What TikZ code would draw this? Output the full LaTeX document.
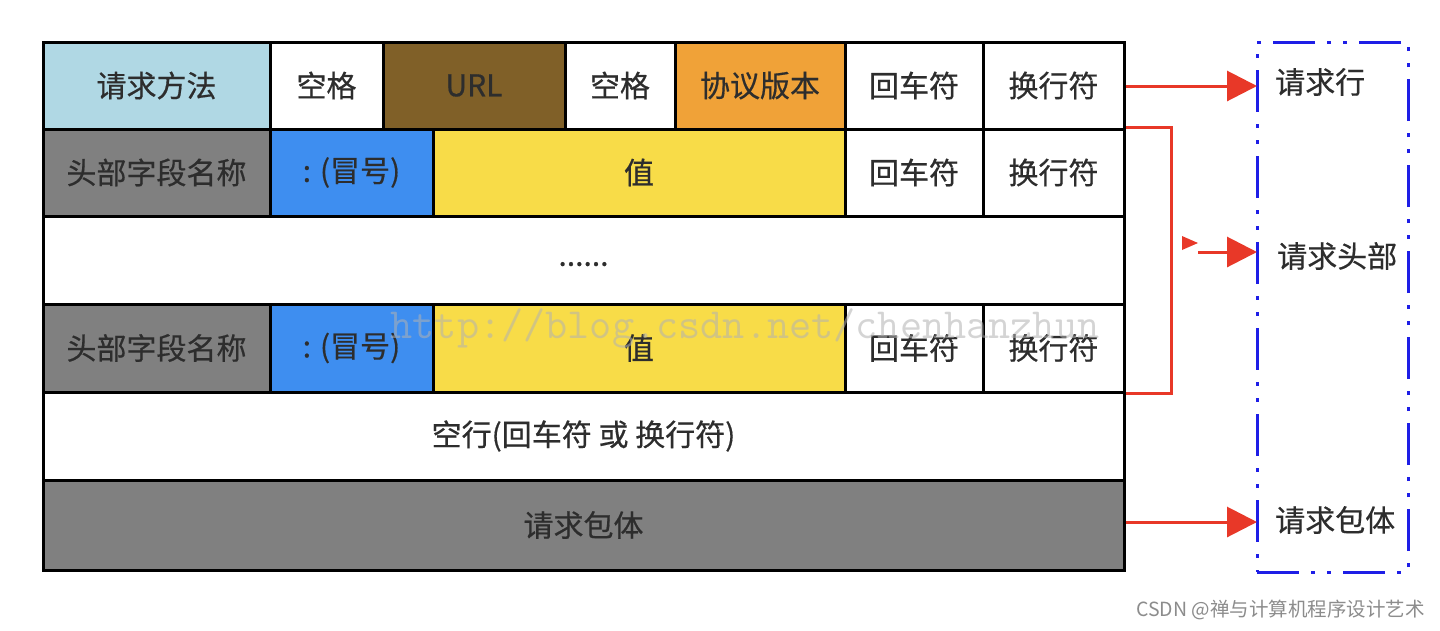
\documentclass[tikz,border=0pt]{standalone}
\usepackage{fontspec}
\setmainfont{Noto Sans CJK SC}[FakeBold=0.5]
\newfontfamily\plainfont{Noto Sans CJK SC}
\usetikzlibrary{arrows.meta}
\definecolor{txt}{RGB}{45,45,45}
\definecolor{lblue}{RGB}{176,216,228}
\definecolor{brownc}{RGB}{128,96,40}
\definecolor{orangec}{RGB}{240,162,56}
\definecolor{grayc}{RGB}{128,128,128}
\definecolor{bluec}{RGB}{62,142,240}
\definecolor{yellowc}{RGB}{248,220,72}
\definecolor{redc}{RGB}{232,56,40}
\definecolor{boxblue}{RGB}{30,30,230}
\tikzset{
  cell/.style={draw=black, line width=3pt, inner sep=0pt, text=txt,
    font=\fontsize{30}{34}\selectfont},
  redarrow/.style={draw=redc, line width=3pt,
    -{Triangle[length=30pt,width=30pt]}},
  redline/.style={draw=redc, line width=3pt},
  lab/.style={anchor=west, text=txt, inner sep=0pt, font=\fontsize{30}{34}\selectfont},
  dashbox/.style={draw=boxblue, line width=3pt,
    dash pattern=on 42pt off 12pt on 4pt off 12pt on 4pt off 12pt}
}
\newcommand\cellbox[7]{%
  \node[cell, fill=#6, minimum width={(#3)-(#2)}, minimum height={(#5)-(#4)}]
    (#1) at ({((#2)+(#3))/2},{((#4)+(#5))/2}) {#7};}
\begin{document}
\begin{tikzpicture}[x=1pt,y=-1pt]
\useasboundingbox[fill=white] (0,0) rectangle (1440,630);
% row 1
\cellbox{a1}{43}{270}{42}{129}{lblue}{请求方法}
\cellbox{a2}{270}{383}{42}{129}{white}{空格}
\cellbox{a3}{383}{565}{42}{129}{brownc}{URL}
\cellbox{a4}{565}{675}{42}{129}{white}{空格}
\cellbox{a5}{675}{845}{42}{129}{orangec}{协议版本}
\cellbox{a6}{845}{983}{42}{129}{white}{回车符}
\cellbox{a7}{983}{1124}{42}{129}{white}{换行符}
% row 2
\cellbox{b1}{43}{270}{129}{216}{grayc}{头部字段名称}
\cellbox{b2}{270}{433}{129}{216}{bluec}{: (冒号)}
\cellbox{b3}{433}{845}{129}{216}{yellowc}{值}
\cellbox{b4}{845}{983}{129}{216}{white}{回车符}
\cellbox{b5}{983}{1124}{129}{216}{white}{换行符}
% row 3
\cellbox{c1}{43}{1124}{216}{304}{white}{\raisebox{-12pt}{......}}
% row 4
\cellbox{d1}{43}{270}{304}{392}{grayc}{头部字段名称}
\cellbox{d2}{270}{433}{304}{392}{bluec}{: (冒号)}
\cellbox{d3}{433}{845}{304}{392}{yellowc}{值}
\cellbox{d4}{845}{983}{304}{392}{white}{回车符}
\cellbox{d5}{983}{1124}{304}{392}{white}{换行符}
% row 5
\cellbox{e1}{43}{1124}{392}{480}{white}{空行(回车符 或 换行符)}
% row 6
\cellbox{f1}{43}{1124}{480}{570}{grayc}{请求包体}
% watermark
\node[text=black!30, opacity=0.55, font=\ttfamily\fontsize{43}{45}\selectfont, inner sep=0pt]
  (wm) at (745,328) {http://blog.csdn.net/chenhanzhun};
% dashed box and labels
\node[dashbox, minimum width=151pt, minimum height=530pt, inner sep=0pt] (box) at (1332.5,307) {};
\node[lab] (l1) at (1275,82) {请求行};
\node[lab] (l2) at (1277,256) {请求头部};
\node[lab] (l3) at (1275,520) {请求包体};
\coordinate (t1) at (1257,86);
\coordinate (t2) at (1257,252);
\coordinate (t3) at (1257,522);
\coordinate (s2) at (1198,252);
% arrows
\draw[redarrow] (a7.east |- t1) -- (t1);
\draw[redline] (b5.north east) -- ++(46,0) |- (d5.south east);
\fill[redc] (1182,236) -- (1198,243) -- (1182,250) -- cycle;
\draw[redarrow] (s2) -- (t2);
\draw[redarrow] (f1.east |- t3) -- (t3);
% credit
\node[anchor=east, text=black!45, inner sep=0pt, font=\plainfont\fontsize{19.5}{22}\selectfont] (cr) at (1425,610) {CSDN @禅与计算机程序设计艺术};
\end{tikzpicture}
\end{document}
